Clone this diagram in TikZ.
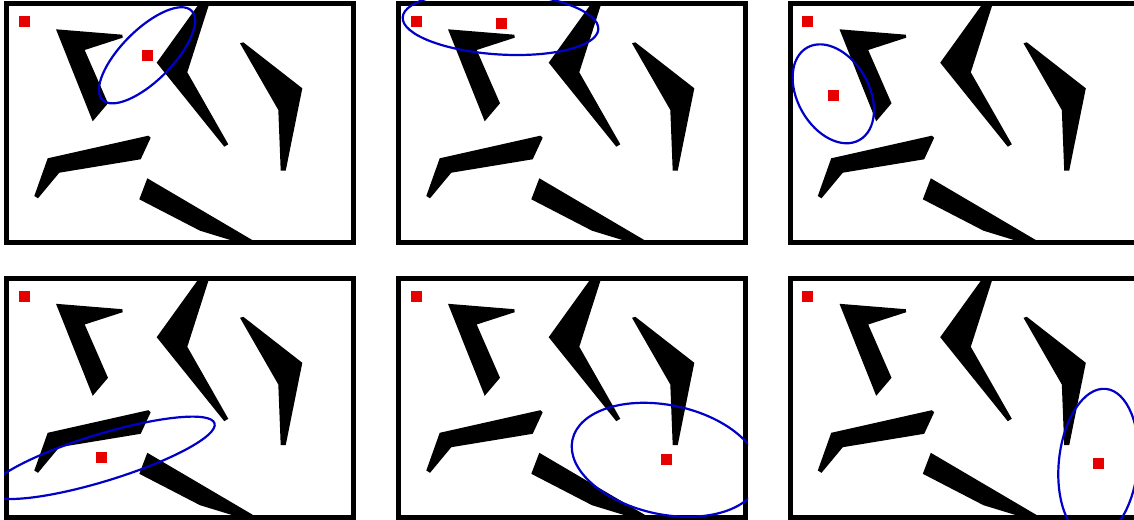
\documentclass[tikz,border=0pt]{standalone}
\usepackage{tikz}
\usetikzlibrary{calc}

\definecolor{goalred}{RGB}{230,0,0}
\definecolor{ellblue}{RGB}{0,0,200}

\tikzset{
  obstacle/.style={fill=black},
  goalsq/.style={fill=goalred},
  panelframe/.style={draw=black,line width=5pt},
  spread/.style={draw=ellblue,line width=2.2pt},
}

% the same five obstacles in every panel
\newcommand{\obstacles}{%
  \fill[obstacle] (49.5,25.8) -- (115.8,31.2) -- (116.2,34.2) -- (78.2,46.5) -- (101.5,99.8) -- (86.2,117.8) -- cycle;
  \fill[obstacle] (192.8,0) -- (150.2,59.2) -- (217.8,143.2) -- (221.8,140.8) -- (180.8,68.8) -- (202.8,0) -- cycle;
  \fill[obstacle] (233.5,39.8) -- (236.8,38.8) -- (295.8,84.8) -- (279.2,167.2) -- (274.2,167.2) -- (271.8,106.5) -- cycle;
  \fill[obstacle] (27.8,192.5) -- (41.2,154.8) -- (141.8,132.2) -- (144.2,134.2) -- (134.2,155.8) -- (52.8,169.2) -- (31.5,194.8) -- cycle;
  \fill[obstacle] (140.8,174.8) -- (250,239) -- (232,239) -- (193.5,227.2) -- (132.8,195.8) -- cycle;
}
\newcommand{\goalbox}[2]{\fill[goalsq] (#1-5.5,#2-5.5) rectangle ++(11,11);}

\begin{document}
\begin{tikzpicture}[x=1pt,y=-1pt]
  \useasboundingbox (0,0) rectangle (1134,519);
  \clip (0,0) rectangle (1134,519);
  \foreach \ox/\oy/\gx/\gy/\ex/\ey/\ea/\eb/\er in {
      6.5/3.5/140.5/51.8/140.5/51.8/63/25.5/45,
      398.5/3.5/102.5/20.5/102/19.8/98/31.2/-3.5,
      790/3.5/43.3/91.5/43.3/90.3/35.8/53.1/29.5,
      6.5/278/95.2/179.8/95.2/179.8/118/23.5/17,
      398.5/278/267.5/181.8/267.5/181.8/95.7/54.6/-12,
      790/278/308.3/185.8/308.3/185.8/39.5/75.3/-5.8}{
    \begin{scope}[shift={(\ox,\oy)}]
      \clip (-2.5,-2.5) rectangle (349.5,241.5);
      \obstacles
      \goalbox{17.5}{18.5}
      \goalbox{\gx}{\gy}
      \draw[panelframe] (0,0) rectangle (347,239);
      \draw[spread,rotate around={\er:(\ex,\ey)}] (\ex,\ey) ellipse [x radius=\ea,y radius=\eb];
    \end{scope}
  }
\end{tikzpicture}
\end{document}
